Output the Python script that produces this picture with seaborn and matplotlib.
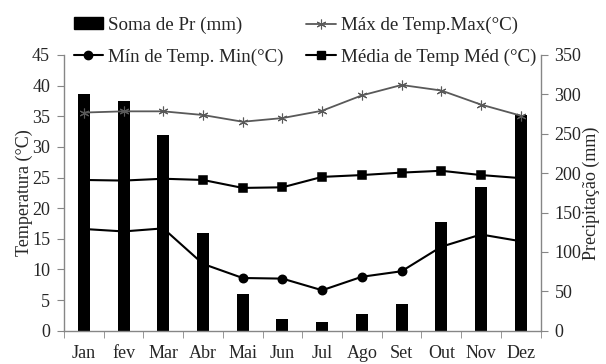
import matplotlib
matplotlib.use("Agg")
import matplotlib.pyplot as plt
import seaborn as sns
import numpy as np
import pandas as pd
from matplotlib.lines import Line2D
from matplotlib.patches import Patch

months = ["Jan", "fev", "Mar", "Abr", "Mai", "Jun", "Jul", "Ago", "Set", "Out", "Nov", "Dez"]
precip = [301, 292, 249, 124, 46, 15, 11.5, 21.5, 33.5, 138, 182, 274]
tmax = [35.6, 35.8, 35.8, 35.2, 34.1, 34.7, 35.9, 38.4, 40.1, 39.2, 36.9, 35.1]
tmed = [24.6, 24.5, 24.8, 24.6, 23.3, 23.4, 25.1, 25.4, 25.8, 26.1, 25.4, 24.9]
tmin = [16.6, 16.2, 16.7, 10.9, 8.6, 8.5, 6.6, 8.8, 9.7, 13.7, 15.7, 14.6]

sns.set_style("white")
plt.rcParams['font.family'] = ['Liberation Serif', 'DejaVu Serif']

df = pd.DataFrame({"mes": months, "pr": precip, "tmax": tmax, "tmed": tmed, "tmin": tmin})

fig = plt.figure(figsize=(6.06, 3.64), dpi=100)
ax = fig.add_axes([0.1056, 0.0915, 0.7864, 0.7575])
ax2 = ax.twinx()

grey = "#868686"

sns.barplot(data=df, x="mes", y="pr", ax=ax2, color="black", width=0.3,
            saturation=1, edgecolor="black", linewidth=0)

sns.pointplot(data=df, x="mes", y="tmax", ax=ax, color="#595959",
              marker=(6, 2, 0), markersize=7, linewidth=1.3, markeredgewidth=0.8)
sns.pointplot(data=df, x="mes", y="tmed", ax=ax, color="black",
              marker="s", markersize=6, linewidth=1.5)
sns.pointplot(data=df, x="mes", y="tmin", ax=ax, color="black",
              marker="o", markersize=6, linewidth=1.5)

ax.set_zorder(2)
ax2.set_zorder(1)
ax.patch.set_visible(False)

ax.set_xlim(-0.5, 11.5)
ax.set_ylim(0, 45)
ax.set_yticks(np.arange(0, 46, 5))
ax2.set_ylim(0, 350)
ax2.set_yticks(np.arange(0, 351, 50))

ax.set_xlabel("")
ax2.set_xlabel("")
ax.set_ylabel("Temperatura (°C)", fontsize=13, labelpad=-1)
ax2.set_ylabel("Precipitação (mm)", fontsize=13, labelpad=1)

ax.set_xticks(np.arange(len(months)))
ax.set_xticklabels(months)
ax.set_xticks(np.arange(-0.5, 12, 1), minor=True)
ax.tick_params(axis='x', which='major', length=0, labelsize=13, pad=10)
ax.tick_params(axis='x', which='minor', length=5, color=grey, direction='out', bottom=True)
ax.tick_params(axis='y', length=5, color=grey, direction='out', labelsize=13, left=True, pad=5)
ax2.tick_params(axis='y', length=5, color=grey, direction='out', labelsize=13, right=True, pad=5)

for a in (ax, ax2):
    for s in a.spines.values():
        s.set_color(grey)
        s.set_linewidth(1)
    a.spines['top'].set_visible(False)
ax.spines['right'].set_visible(False)
ax2.spines['left'].set_visible(False)
ax2.spines['bottom'].set_visible(False)

handles = [
    Patch(facecolor="black", edgecolor="black"),
    Line2D([], [], color="black", marker="o", markersize=6, linewidth=1.5),
    Line2D([], [], color="#595959", marker=(6, 2, 0), markersize=7, linewidth=1.3, markeredgewidth=0.8),
    Line2D([], [], color="black", marker="s", markersize=6, linewidth=1.5),
]
labels = ["Soma de Pr (mm)", "Mín de Temp. Min(°C)", "Máx de Temp.Max(°C)", "Média de Temp Méd (°C)"]
fig.legend(handles, labels, ncol=2, loc="upper left", bbox_to_anchor=(0.106, 0.98),
           frameon=False, fontsize=13.7, borderpad=0, handlelength=1.55, handleheight=0.6,
           handletextpad=0.25, columnspacing=1.2, labelspacing=0.75)

fig.savefig("out.png", dpi=100)
